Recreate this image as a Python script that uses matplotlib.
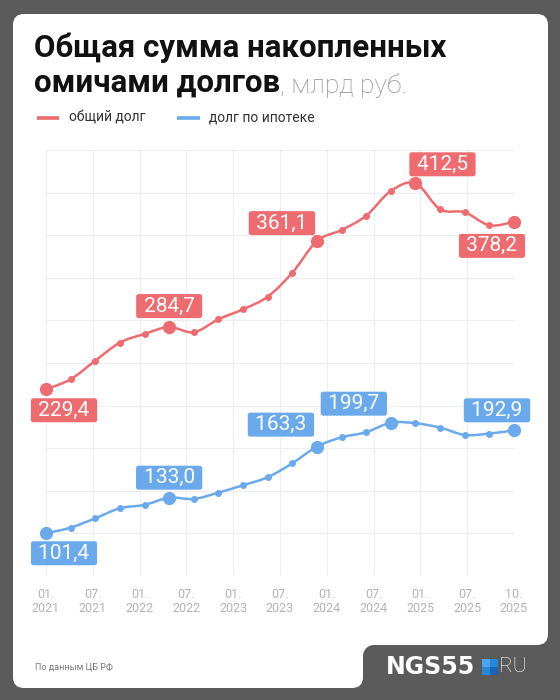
import numpy as np
import matplotlib
matplotlib.use("Agg")
import matplotlib.pyplot as plt
from matplotlib.path import Path
from matplotlib.patches import PathPatch, FancyBboxPatch, Rectangle, Circle

# данные (поквартально, 01.2021 - 10.2025), млрд руб.
total_debt = [229.4, 238.3, 254.8, 270.9, 278.6, 284.7, 280.1, 291.6, 300.5, 311.7,
              333.0, 361.1, 371.0, 383.7, 405.7, 412.5, 389.4, 386.7, 375.2, 378.2]
mortgage = [101.4, 106.4, 114.7, 123.6, 126.6, 133.0, 131.9, 137.5, 144.1, 151.2,
            163.6, 178.4, 186.7, 191.2, 199.7, 199.2, 195.3, 188.8, 190.0, 192.9]

# подписанные точки: индекс, текст, смещение подписи (px)
total_marks = [(0, "229,4", (18, -21)), (5, "284,7", (0, 21)), (11, "361,1", (-35, 18)),
               (15, "412,5", (27, 19)), (19, "378,2", (-22, -24))]
mortgage_marks = [(0, "101,4", (18, -20)), (5, "133,0", (0, 20)), (11, "163,3", (-36, 22)),
                  (14, "199,7", (-37, 19)), (19, "192,9", (-17, 20))]

tick_labels = ["01.\n2021", "07.\n2021", "01.\n2022", "07.\n2022", "01.\n2023", "07.\n2023",
               "01.\n2024", "07.\n2024", "01.\n2025", "07.\n2025", "10.\n2025"]

RED = "#EE6B70"
BLUE = "#6AAAEC"
DARK = "#5B5B5B"
FONT = ["Roboto", "DejaVu Sans"]


def smooth_path(xs, ys):
    # кривая Катмулла-Рома через точки ряда
    pts = np.column_stack([xs, ys]).astype(float)
    ext = np.vstack([pts[0], pts, pts[-1]])
    verts = [pts[0]]
    codes = [Path.MOVETO]
    for i in range(1, len(ext) - 2):
        p0, p1, p2, p3 = ext[i - 1], ext[i], ext[i + 1], ext[i + 2]
        verts += [p1 + (p2 - p0) / 6, p2 - (p3 - p1) / 6, p2]
        codes += [Path.CURVE4] * 3
    return Path(verts, codes)


fig = plt.figure(figsize=(5.6, 7), dpi=100, facecolor=DARK)

# фон-карточка в пиксельных координатах
bg = fig.add_axes([0, 0, 1, 1], zorder=0)
bg.set_xlim(0, 560)
bg.set_ylim(700, 0)
bg.axis("off")
bg.add_patch(FancyBboxPatch((13, 14), 535, 631, boxstyle="round,pad=0,rounding_size=11",
                            fc="white", ec="none"))
bg.add_patch(FancyBboxPatch((13, 600), 350, 88, boxstyle="round,pad=0,rounding_size=11",
                            fc="white", ec="none"))
bg.add_patch(Rectangle((362, 644), 12, 12, fc="white", ec="none"))
bg.add_patch(Circle((374, 656), 11, fc=DARK, ec="none"))

# заголовок
bg.text(34, 57, "Общая сумма накопленных", fontsize=22.5, fontweight="bold",
        family=FONT, color="#111111", va="baseline")
t2 = bg.text(34, 92, "омичами долгов", fontsize=22.5, fontweight="bold",
             family=FONT, color="#111111", va="baseline")
bg.annotate(", млрд руб.", xy=(1, 0), xycoords=t2, va="bottom", ha="left",
            fontsize=19, fontweight="light", family=FONT, color="#8E8E8E")

# легенда
bg.plot([37, 59], [118, 118], color=RED, lw=2.6, solid_capstyle="butt")
bg.text(69, 117, "общий долг", fontsize=10, family=FONT, color="#333333", va="center")
bg.plot([177, 200], [118, 118], color=BLUE, lw=2.6, solid_capstyle="butt")
bg.text(209, 117, "долг по ипотеке", fontsize=10, family=FONT, color="#333333", va="center")

# источник и логотип
bg.text(35, 667, "По данным ЦБ РФ", fontsize=6.5, family=FONT, color="#7A7A7A", va="center")
bg.text(386, 667, "NGS55", fontsize=17, fontweight="heavy", family=["DejaVu Sans"],
        color="white", va="center", ha="left")
for (sx, sy, c) in [(482, 659, "#4AA6F0"), (490, 659, "#2A86DA"),
                    (482, 667, "#2A86DA"), (490, 667, "#1B63B6")]:
    bg.add_patch(Rectangle((sx, sy), 8, 8, fc=c, ec="none"))
bg.text(499, 667, "RU", fontsize=15, fontweight="light", family=FONT,
        color="white", va="center", ha="left")

# график
ax = fig.add_axes([46 / 560, 1 - 576 / 700, 468 / 560, 426 / 700], zorder=1)
ax.patch.set_alpha(0)
ylo, yhi = 63.4, 442.1
ax.set_xlim(0, 19)
ax.set_ylim(ylo, yhi)
for s in ax.spines.values():
    s.set_visible(False)

x = np.arange(len(total_debt))
for gx in np.linspace(0, 19, 11):
    ax.axvline(gx, color="#EEEEEE", lw=0.8, zorder=0)
for gy in np.linspace(ylo, yhi, 11):
    ax.axhline(gy, color="#EEEEEE", lw=0.8, zorder=0)

ax.set_xticks(np.linspace(0, 19, 11))
ax.set_xticklabels(tick_labels, fontsize=9, family=FONT, color="#B3B3B3",
                   linespacing=1.0)
ax.tick_params(axis="x", length=0, pad=9)
ax.set_yticks([])

for vals, color, marks in [(total_debt, RED, total_marks), (mortgage, BLUE, mortgage_marks)]:
    ax.add_patch(PathPatch(smooth_path(x, vals), fc="none", ec=color, lw=1.8, zorder=3))
    ax.plot(x, vals, "o", ms=4.0, color=color, zorder=4, clip_on=False)
    for idx, label, off in marks:
        ax.plot(x[idx], vals[idx], "o", ms=8.5, color=color, zorder=5, clip_on=False)
        ax.annotate(" " + label + " ", xy=(x[idx], vals[idx]), xytext=off,
                    textcoords="offset pixels", ha="center", va="center",
                    fontsize=15, family=FONT, color="white", zorder=6,
                    annotation_clip=False,
                    bbox=dict(boxstyle="round,pad=0.12,rounding_size=0.12",
                              fc=color, ec="none"))

fig.savefig("out.png", dpi=100, facecolor=DARK)
